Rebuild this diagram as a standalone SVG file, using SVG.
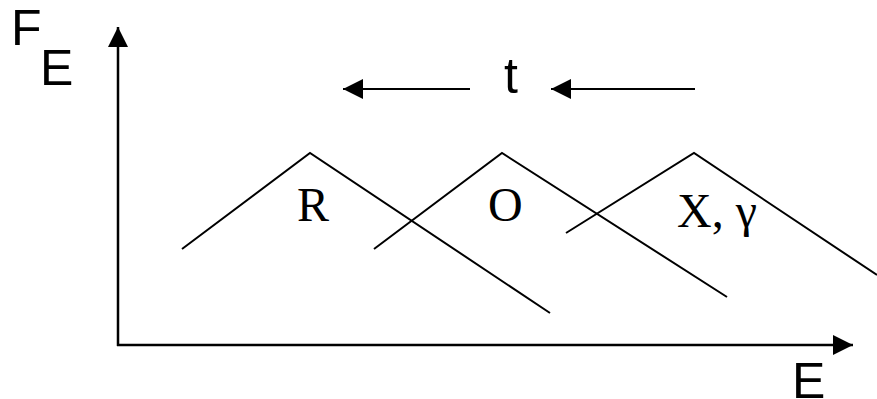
<svg xmlns="http://www.w3.org/2000/svg" width="877" height="399" viewBox="0 0 877 399">
<style>
.ln{stroke:#000;stroke-width:2;fill:none}
.ax{stroke:#000;stroke-width:2.5;fill:none}
.sans{font-family:"Liberation Sans",Arial,sans-serif;font-size:50px;fill:#000}
.serif{font-family:"Liberation Serif","Times New Roman",serif;font-size:48px;fill:#000}
</style>
<defs>
<marker id="ah" viewBox="0 0 20 20" refX="20" refY="10" markerWidth="20" markerHeight="20" markerUnits="userSpaceOnUse" orient="auto">
<path d="M0,0 L20,10 L0,20 Z" fill="#000"/>
</marker>
</defs>
<g id="connectors">
<line id="y-axis" class="ax" x1="118" y1="346" x2="118" y2="27" marker-end="url(#ah)"/>
<line id="x-axis" class="ax" x1="117" y1="345" x2="853" y2="345" marker-end="url(#ah)"/>
<line id="t-arrow-left" class="ln" x1="470" y1="89" x2="343" y2="89" marker-end="url(#ah)"/>
<line id="t-arrow-right" class="ln" x1="695" y1="89" x2="551" y2="89" marker-end="url(#ah)"/>
</g>
<g id="curve-R"><polyline class="ln" points="182,249 310,153 550,313"/></g>
<g id="curve-O"><polyline class="ln" points="374,249 502,153 727,297"/></g>
<g id="curve-X"><polyline class="ln" points="566,233 694,153 877,275"/></g>
<g id="labels">
<text class="sans" x="11" y="45">F</text>
<text class="sans" x="40" y="85">E</text>
<text class="sans" x="504" y="93">t</text>
<text class="sans" x="792" y="398">E</text>
<text class="serif" x="297" y="221">R</text>
<text class="serif" x="488" y="221">O</text>
<text class="serif" x="677" y="227">X, γ</text>
</g>
</svg>
